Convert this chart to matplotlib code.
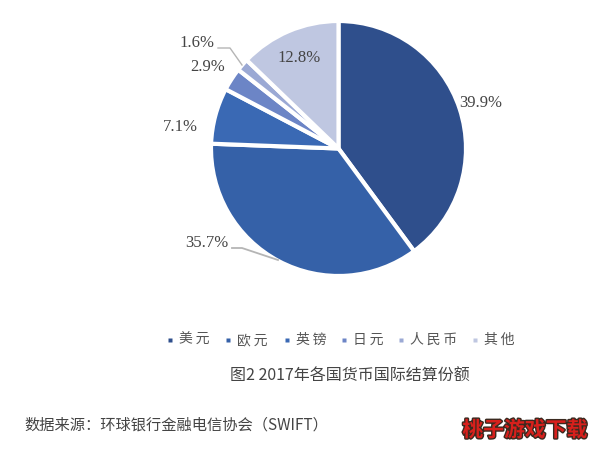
import matplotlib
matplotlib.use('Agg')
import matplotlib.pyplot as plt
import matplotlib.patheffects as pe

currencies = ['美元', '欧元', '英镑', '日元', '人民币', '其他']
shares = [39.9, 35.7, 7.1, 2.9, 1.6, 12.8]
colors = ['#2f4f8c', '#3561a8', '#3a69b4', '#6c85c6', '#9ba9d4', '#bfc7e1']
share_labels = ['39.9%', '35.7%', '7.1%', '2.9%', '1.6%', '12.8%']
label_xy = [(481, 103), (207, 243), (180, 127), (208, 67), (197, 43), (299, 58)]

W, H = 594, 449
cjk = ['Noto Sans CJK SC', 'DejaVu Sans']
serif = 'Liberation Serif'

fig = plt.figure(figsize=(W / 100, H / 100), dpi=100)

# pie axes, box around the circle
cx, cy, r = 338.5, 148.5, 127.5
ax = fig.add_axes([(cx - r) / W, 1 - (cy + r) / H, 2 * r / W, 2 * r / H])
wedges, _ = ax.pie(shares, colors=colors, startangle=90, counterclock=False, radius=1,
                   wedgeprops={'edgecolor': 'white', 'linewidth': 3})
ax.set_xlim(-1, 1)
ax.set_ylim(-1, 1)

# overlay in pixel coordinates, for texts and leader lines
bg = fig.add_axes([0, 0, 1, 1])
bg.set_xlim(0, W)
bg.set_ylim(H, 0)
bg.axis('off')

for txt, (x, y) in zip(share_labels, label_xy):
    bg.text(x, y, txt, family=serif, fontsize=12, color='#444444', ha='center', va='center',
            zorder=5)

# leader lines
bg.plot([218, 230, 242], [48, 48, 65], color='#b5b5b5', lw=1)
bg.plot([232, 242, 278], [248, 248, 260], color='#b5b5b5', lw=1.3)

# legend
marker_x = [170, 228, 287, 344, 401, 475]
for x, name, c in zip(marker_x, currencies, colors):
    bg.plot([x], [340], marker='s', ms=2.6, color=c, mec='none')
    bg.text(x + 9, 340, '\u2009'.join(name), family=cjk, fontsize=10, color='#555555',
            ha='left', va='center')

bg.text(350, 376, '图2 2017年各国货币国际结算份额', family=cjk, fontsize=11.5, color='#444444',
        ha='center', va='center')
bg.text(24, 425, '数据来源：环球银行金融电信协会（SWIFT）', family=cjk, fontsize=11, color='#444444',
        ha='left', va='center')
bg.text(525, 430, '桃子游戏下载', family=cjk, fontsize=15, fontweight='bold', color='#d8201c',
        ha='center', va='center',
        path_effects=[pe.withStroke(linewidth=2, foreground='#3a2a20')])

fig.savefig('out.png', dpi=100)
